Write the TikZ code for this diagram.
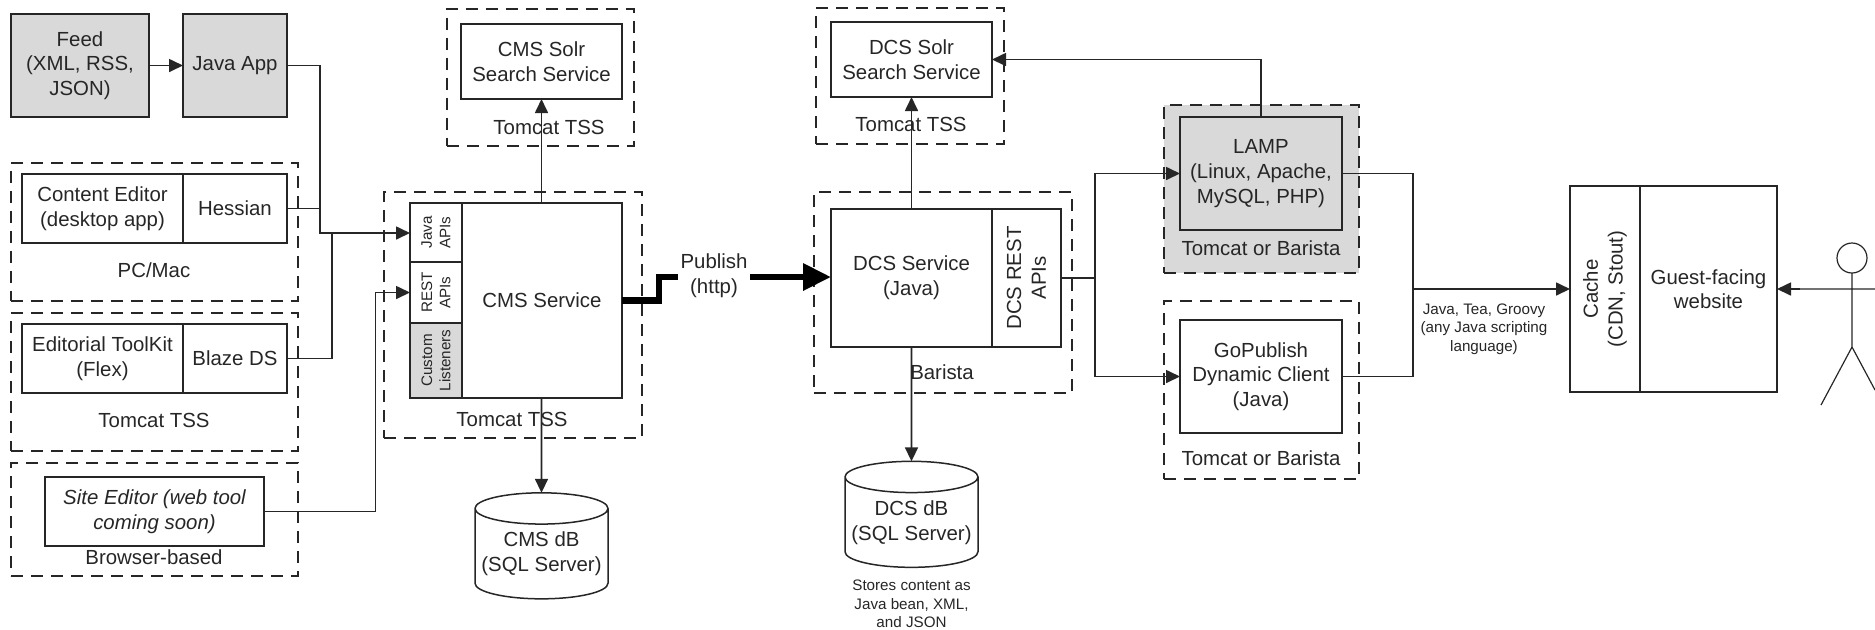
\documentclass[tikz,border=0pt]{standalone}
\usepackage{fontspec}
\setmainfont{Liberation Sans}
\usetikzlibrary{arrows.meta,shapes.geometric}
\definecolor{archInk}{HTML}{262626}
\definecolor{archGrey}{HTML}{D9D9D9}
\newcommand{\smalltext}{\fontsize{7.6}{9.2}\selectfont}
\tikzset{
  area/.style n args={4}{at={(#1,#2)},anchor=north west,outer sep=0pt,
                         minimum width=(#3-#1)*0.5pt,minimum height=(#4-#2)*0.5pt},
  box/.style={draw=archInk,line width=0.85pt,inner sep=0pt,align=center},
  greybox/.style={box,fill=archGrey},
  group/.style={draw=archInk,line width=0.85pt,dash pattern=on 6pt off 4pt,inner sep=0pt},
  caption/.style={inner sep=0pt,align=center},
  tinycaption/.style={caption,font=\smalltext},
  db/.style={cylinder,shape border rotate=90,draw=archInk,line width=0.75pt,aspect=0.26,outer sep=0pt,
             minimum width=66.5pt,minimum height=53pt,inner sep=0pt,align=center},
  connline/.style={draw=archInk,line width=0.85pt},
  connarrow/.style={connline,-{Triangle[length=7pt,width=6.5pt]}},
  publishline/.style={draw=black,line width=3.2pt},
}
\begin{document}
\begin{tikzpicture}[x=0.5pt,y=-0.5pt,font=\fontsize{10.2}{12.3}\selectfont,text=archInk]
  \useasboundingbox (0,0) rectangle (1875,629);

  \node[group,area={11}{163}{298}{301}] (pcgroup) {};
  \node[group,area={11}{313}{298}{451}] (toolkitgroup) {};
  \node[group,area={11}{463}{298}{576}] (browsergroup) {};
  \node[group,area={447}{9}{634}{146}] (cmssolrgroup) {};
  \node[group,area={384}{192}{642}{438}] (cmsgroup) {};
  \node[group,area={816}{8}{1004}{144}] (dcssolrgroup) {};
  \node[group,area={814}{192}{1072}{393}] (dcsgroup) {};
  \node[group,fill=archGrey,area={1164}{105}{1359}{273}] (lampgroup) {};
  \node[group,area={1164}{301}{1359}{479}] (gopublishgroup) {};

  \node[caption] (pclabel) at (154,270) {PC/Mac};
  \node[caption] (toolkitlabel) at (154,420) {Tomcat TSS};
  \node[caption] (browserlabel) at (154,557) {Browser-based};
  \node[caption] (cmssolrlabel) at (549,127) {Tomcat TSS};
  \node[caption] (cmslabel) at (512,419) {Tomcat TSS};
  \node[caption] (dcssolrlabel) at (911,124) {Tomcat TSS};
  \node[caption] (dcslabel) at (942,372) {Barista};
  \node[caption] (lamplabel) at (1261,248) {Tomcat or Barista};
  \node[caption] (gopublishlabel) at (1261,458) {Tomcat or Barista};

  \node[greybox,area={11}{14}{149}{117}] (feed) {Feed\\(XML, RSS,\\JSON)};
  \node[greybox,area={183}{14}{287}{117}] (javaapp) {Java App};
  \node[box,area={22}{174}{183}{243}] (contenteditor) {Content Editor\\(desktop app)};
  \node[box,area={183}{174}{287}{243}] (hessian) {Hessian};
  \node[box,area={22}{324}{183}{393}] (toolkit) {Editorial ToolKit\\(Flex)};
  \node[box,area={183}{324}{287}{393}] (blazeds) {Blaze DS};
  \node[box,area={45}{477}{264}{546}] (siteeditor) {\itshape Site Editor (web tool\\\itshape coming soon)};

  \node[box,area={461}{24}{622}{99}] (cmssolr) {CMS Solr\\Search Service};
  \node[box,area={462}{203}{622}{398}] (cmsservice) {CMS Service};
  \node[box,area={410}{203}{462}{262}] (javaapis) {};
  \node[box,area={410}{262}{462}{323}] (restapis) {};
  \node[greybox,area={410}{323}{462}{398}] (listeners) {};
  \node[tinycaption,rotate=90] (javaapistext) at (javaapis) {Java\\APIs};
  \node[tinycaption,rotate=90] (restapistext) at (restapis) {REST\\APIs};
  \node[tinycaption,rotate=90] (listenerstext) at (listeners) {Custom\\Listeners};
  \node[db] (cmsdb) at (541.5,554) {CMS dB\\(SQL Server)};

  \node[caption,inner sep=1pt] (publish) at (714,276) {Publish\\(http)};

  \node[box,area={831}{22}{992}{97}] (dcssolr) {DCS Solr\\Search Service};
  \node[box,area={831}{209}{992}{347}] (dcsservice) {DCS Service\\(Java)};
  \node[box,area={992}{209}{1061}{347}] (dcsrest) {};
  \node[caption,rotate=90] (dcsresttext) at (dcsrest) {DCS REST\\APIs};
  \node[db] (dcsdb) at (911.5,522.5) {DCS dB\\(SQL Server)};
  \node[tinycaption] (dcsdbnote) at (911.5,604) {Stores content as\\Java bean, XML,\\and JSON};

  \node[greybox,area={1180}{117}{1342}{230}] (lamp) {LAMP\\(Linux, Apache,\\MySQL, PHP)};
  \node[box,area={1180}{320}{1342}{433}] (gopublish) {GoPublish\\Dynamic Client\\(Java)};
  \node[tinycaption] (scriptnote) at (1484,329) {Java, Tea, Groovy\\(any Java scripting\\language)};

  \node[box,area={1570}{186}{1640}{392}] (cache) {};
  \node[caption,rotate=90] (cachetext) at (cache) {Cache\\(CDN, Stout)};
  \node[box,area={1640}{186}{1777}{392}] (website) {Guest-facing\\website};

  \node[draw=archInk,line width=0.6pt,ellipse,inner sep=0pt,outer sep=0pt,minimum width=15pt,minimum height=15pt] (head) at (1852,258) {};
  \coordinate (hip) at (1852,347);
  \coordinate (armleft) at (1800,289);
  \coordinate (armright) at (1875,289);
  \coordinate (footleft) at (1821,405);
  \coordinate (footright) at (1875,390);

  \coordinate (bushessian) at (320,233);
  \coordinate (busblaze) at (332,233);
  \coordinate (busrest) at (375.5,292.5);
  \coordinate (pubbend) at (659,277);
  \coordinate (dcsfork) at (1095,278);
  \coordinate (outfork) at (1413,289);

  \draw[connarrow] (feed) -- (javaapp);
  \draw[connline] (hessian.east) -| (bushessian);
  \draw[connline] (blazeds.east) -| (busblaze);
  \draw[connarrow] (javaapp.east) -| (bushessian) -- (javaapis.west |- bushessian);
  \draw[connarrow] (siteeditor.east) -| (busrest) -- (restapis.west);
  \draw[connarrow] (cmsservice.north -| cmssolr) -- (cmssolr.south);
  \draw[connarrow] (cmsservice.south -| cmssolr) -- (cmsdb.north);
  \draw[publishline] (cmsservice.east) -| (pubbend) -- (publish.west |- pubbend);
  \draw[publishline,-{Triangle[length=14pt,width=13pt]}] (publish.east |- pubbend) -- (dcsservice.west |- pubbend);
  \draw[connarrow] (dcsservice.north) -- (dcssolr.south);
  \draw[connarrow] (dcsservice.south) -- (dcsdb.north);
  \draw[connline] (dcsrest.east) -- (dcsfork);
  \draw[connarrow] (dcsfork) |- (lamp.west);
  \draw[connarrow] (dcsfork) |- (gopublish.west);
  \draw[connarrow] (lamp.north) |- (dcssolr.east);
  \draw[connline] (lamp.east) -| (outfork);
  \draw[connline] (gopublish.east) -| (outfork);
  \draw[connarrow] (outfork) -- (cache.west);
  \draw[connarrow] (armleft) -- (website.east);
  \draw[line width=0.6pt,draw=archInk] (armleft) -- (armright)
    (head.south) -- (hip) -- (footleft) (hip) -- (footright);
\end{tikzpicture}
\end{document}
